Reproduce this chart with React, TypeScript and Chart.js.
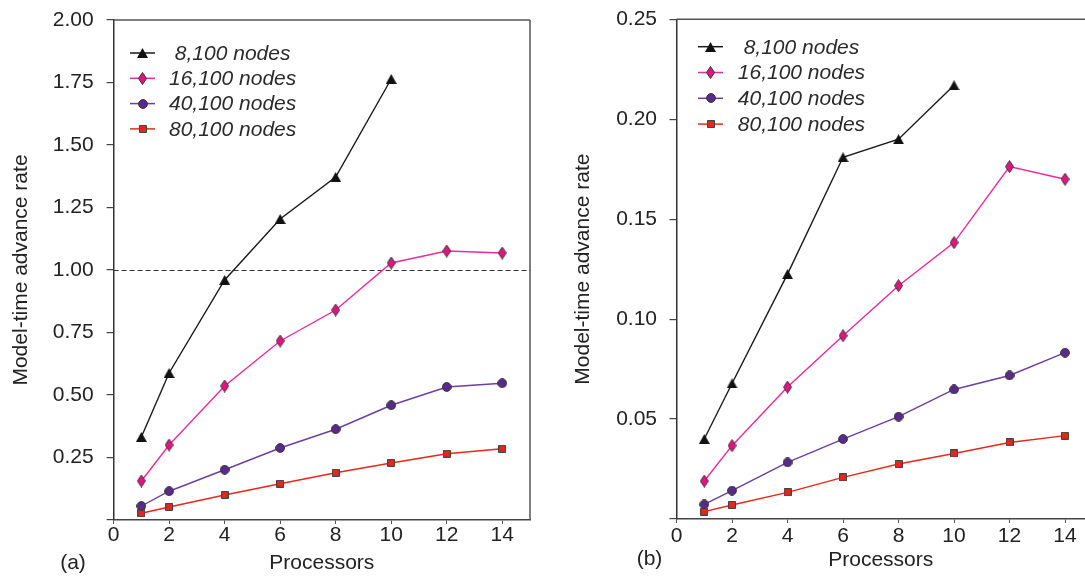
import React, { useEffect, useRef } from 'react';
import { Chart, registerables } from 'chart.js';

Chart.register(...registerables);

const FONT = '"Liberation Sans", Arial, Helvetica, sans-serif';

// ---- data ----
const PROCS_SHORT = [1, 2, 4, 6, 8, 10];
const PROCS = [1, 2, 4, 6, 8, 10, 12, 14];
const X_TICKS = [0, 2, 4, 6, 8, 10, 12, 14];

const SERIES_LABELS = [' 8,100 nodes', '16,100 nodes', '40,100 nodes', '80,100 nodes'];

// panel (a)
const A_8100 = [0.332, 0.588, 0.96, 1.204, 1.372, 1.764];
const A_16100 = [0.156, 0.3, 0.536, 0.716, 0.84, 1.028, 1.076, 1.068];
const A_40100 = [0.056, 0.115, 0.201, 0.288, 0.363, 0.459, 0.532, 0.547];
const A_80100 = [0.027, 0.052, 0.1, 0.145, 0.189, 0.228, 0.265, 0.285];
const A_Y_TICKS = [0, 0.25, 0.5, 0.75, 1.0, 1.25, 1.5, 1.75, 2.0];
const A_REF_LINE = 1.0;

// panel (b)
const B_8100 = [0.04, 0.0678, 0.1225, 0.181, 0.19, 0.217];
const B_16100 = [0.019, 0.0367, 0.066, 0.0917, 0.1167, 0.1383, 0.1763, 0.17];
const B_40100 = [0.0073, 0.0142, 0.0283, 0.04, 0.0512, 0.0648, 0.0718, 0.0832];
const B_80100 = [0.0037, 0.007, 0.0133, 0.0208, 0.0275, 0.0328, 0.0383, 0.0417];
const B_Y_TICKS = [0, 0.05, 0.1, 0.15, 0.2, 0.25];

const COLORS = ['#1a1a1a', '#ee2a9b', '#6a3fa5', '#e8261c'];
const KINDS = ['tri', 'diamond', 'circle', 'square'];

function makeMarker(kind: string): HTMLCanvasElement {
  const c = document.createElement('canvas');
  let w = 9, h = 9;
  if (kind === 'tri') { w = 11; h = 10; }
  if (kind === 'diamond') { w = 9; h = 13; }
  if (kind === 'circle') { w = 10; h = 10; }
  if (kind === 'square') { w = 8; h = 8; }
  c.width = w; c.height = h;
  const ctx = c.getContext('2d')!;
  ctx.lineWidth = 1;
  ctx.beginPath();
  if (kind === 'tri') {
    ctx.moveTo(5.5, 0); ctx.lineTo(11, 10); ctx.lineTo(0, 10); ctx.closePath();
    ctx.fillStyle = '#111'; ctx.fill();
  } else if (kind === 'diamond') {
    ctx.moveTo(4.5, 0.5); ctx.lineTo(8.5, 6.5); ctx.lineTo(4.5, 12.5); ctx.lineTo(0.5, 6.5); ctx.closePath();
    ctx.fillStyle = '#e4137f'; ctx.fill();
    ctx.strokeStyle = '#333'; ctx.stroke();
  } else if (kind === 'circle') {
    ctx.arc(5, 5, 4.4, 0, Math.PI * 2);
    ctx.fillStyle = '#5a2a8a'; ctx.fill();
    ctx.strokeStyle = '#333'; ctx.stroke();
  } else {
    ctx.rect(0.5, 0.5, 7, 7);
    ctx.fillStyle = '#e3261f'; ctx.fill();
    ctx.strokeStyle = '#444'; ctx.stroke();
  }
  return c;
}

type PanelCfg = {
  left: number;
  width: number;
  ys: number[][];
  yTicks: number[];
  yMax: number;
  xMax: number;
  yAxisWidth: number;
  padTop: number;
  padRight: number;
  xHeight: number;
  xTickPad: number;
  xTitlePad: number;
  yTitlePad: number;
  yTickPad: number;
  legend: { x0: number; x1: number; tx: number; y0: number; step: number };
  tag: string;
  tagX: number;
  tagY: number;
  refLine: number | null;
  rightFrame: boolean;
};

function Panel({ cfg }: { cfg: PanelCfg }) {
  const ref = useRef<HTMLCanvasElement>(null);
  useEffect(() => {
    const markers = KINDS.map((k) => makeMarker(k));
    const datasets = cfg.ys.map((ys, i) => {
      const xs = i === 0 ? PROCS_SHORT : PROCS;
      return {
        label: SERIES_LABELS[i],
        data: xs.map((x, j) => ({ x, y: ys[j] })),
        borderColor: COLORS[i],
        backgroundColor: COLORS[i],
        borderWidth: 1.4,
        pointStyle: markers[i] as any,
        pointRadius: 5,
        pointHoverRadius: 5,
        tension: 0,
        fill: false,
        clip: 8,
      };
    });

    const decor = {
      id: 'decor',
      beforeDatasetsDraw(chart: any) {
        const { ctx, chartArea } = chart;
        ctx.save();
        ctx.strokeStyle = '#555';
        ctx.lineWidth = 1.5;
        ctx.beginPath();
        ctx.moveTo(chartArea.left, chartArea.top);
        ctx.lineTo(cfg.rightFrame ? chartArea.right : chart.width, chartArea.top);
        if (cfg.rightFrame) {
          ctx.moveTo(chartArea.right, chartArea.top);
          ctx.lineTo(chartArea.right, chartArea.bottom);
        }
        ctx.stroke();
        if (cfg.refLine !== null) {
          const y = Math.round(chart.scales.y.getPixelForValue(cfg.refLine)) + 0.5;
          ctx.strokeStyle = '#333';
          ctx.lineWidth = 1.2;
          ctx.setLineDash([5, 3]);
          ctx.beginPath();
          ctx.moveTo(chartArea.left, y);
          ctx.lineTo(chartArea.right, y);
          ctx.stroke();
          ctx.setLineDash([]);
        }
        ctx.restore();
      },
      afterDatasetsDraw(chart: any) {
        const { ctx } = chart;
        const L = cfg.legend;
        ctx.save();
        chart.data.datasets.forEach((ds: any, i: number) => {
          const y = L.y0 + i * L.step;
          ctx.strokeStyle = ds.borderColor;
          ctx.lineWidth = 1.5;
          ctx.beginPath();
          ctx.moveTo(L.x0, y);
          ctx.lineTo(L.x1, y);
          ctx.stroke();
          const m = ds.pointStyle as HTMLCanvasElement;
          ctx.drawImage(m, Math.round((L.x0 + L.x1) / 2 - m.width / 2), Math.round(y - m.height / 2));
          ctx.fillStyle = '#2a2a2a';
          ctx.font = 'italic 21px ' + FONT;
          ctx.textAlign = 'left';
          ctx.textBaseline = 'middle';
          ctx.fillText(ds.label, L.tx, y + 1);
        });
        ctx.font = '21px ' + FONT;
        ctx.fillStyle = '#222';
        ctx.textAlign = 'center';
        ctx.textBaseline = 'middle';
        ctx.fillText(cfg.tag, cfg.tagX, cfg.tagY);
        ctx.restore();
      },
    };

    const chart = new Chart(ref.current!, {
      type: 'line',
      data: { datasets: datasets as any },
      options: {
        responsive: false,
        animation: false,
        devicePixelRatio: 1,
        layout: { autoPadding: false, padding: { top: cfg.padTop, right: cfg.padRight, left: 0, bottom: 0 } },
        plugins: { legend: { display: false }, tooltip: { enabled: false } },
        events: [],
        scales: {
          x: {
            type: 'linear',
            min: 0,
            max: cfg.xMax,
            afterBuildTicks: (s: any) => {
              s.ticks = X_TICKS.map((v) => ({ value: v }));
            },
            afterFit: (s: any) => {
              s.height = cfg.xHeight;
              s.paddingLeft = 0;
              s.paddingRight = 0;
            },
            grid: { drawOnChartArea: false, drawTicks: true, tickLength: 4, color: '#555', lineWidth: 1 },
            border: { display: true, color: '#444', width: 1.5 },
            ticks: {
              padding: cfg.xTickPad,
              color: '#222',
              font: { family: FONT, size: 21, lineHeight: 1 },
              maxRotation: 0,
              autoSkip: false,
              callback: (v: any) => String(v),
            },
            title: {
              display: true,
              text: 'Processors',
              color: '#222',
              font: { family: FONT, size: 21, lineHeight: 1 },
              padding: { top: 0, bottom: cfg.xTitlePad },
            },
          },
          y: {
            type: 'linear',
            min: 0,
            max: cfg.yMax,
            afterBuildTicks: (s: any) => {
              s.ticks = cfg.yTicks.map((v) => ({ value: v }));
            },
            afterFit: (s: any) => {
              s.width = cfg.yAxisWidth;
              s.paddingTop = 0;
              s.paddingBottom = 0;
            },
            grid: { drawOnChartArea: false, drawTicks: true, tickLength: 7, color: '#444', lineWidth: 1.2 },
            border: { display: true, color: '#333', width: 1.5 },
            ticks: {
              padding: cfg.yTickPad,
              color: '#222',
              font: { family: FONT, size: 21, lineHeight: 1 },
              autoSkip: false,
              callback: (v: any) => (Number(v) === 0 ? '' : Number(v).toFixed(2)),
            },
            title: {
              display: true,
              text: 'Model-time advance rate',
              color: '#222',
              font: { family: FONT, size: 21, lineHeight: 1 },
              padding: { top: cfg.yTitlePad, bottom: 0 },
            },
          },
        },
      },
      plugins: [decor],
    });
    return () => chart.destroy();
  }, []);
  return (
    <canvas
      ref={ref}
      width={cfg.width}
      height={576}
      style={{ position: 'absolute', left: cfg.left, top: 0, width: cfg.width, height: 576 }}
    />
  );
}

const PANEL_A: PanelCfg = {
  left: 0,
  width: 545,
  ys: [A_8100, A_16100, A_40100, A_80100],
  yTicks: A_Y_TICKS,
  yMax: 2.0,
  xMax: 15,
  yAxisWidth: 113.6,
  padTop: 20,
  padRight: 15,
  xHeight: 56,
  xTickPad: 0.5,
  xTitlePad: 2.5,
  yTitlePad: 11,
  yTickPad: 13,
  legend: { x0: 130, x1: 155, tx: 169, y0: 53, step: 25.3 },
  tag: '(a)',
  tagX: 73,
  tagY: 563,
  refLine: A_REF_LINE,
  rightFrame: true,
};

const PANEL_B: PanelCfg = {
  left: 545,
  width: 540,
  ys: [B_8100, B_16100, B_40100, B_80100],
  yTicks: B_Y_TICKS,
  yMax: 0.25,
  xMax: 14.72,
  yAxisWidth: 131.5,
  padTop: 19.3,
  padRight: 0,
  xHeight: 57,
  xTickPad: 3.2,
  xTitlePad: 5.5,
  yTitlePad: 27.5,
  yTickPad: 12.5,
  legend: { x0: 153, x1: 178, tx: 192.8, y0: 46.7, step: 25.8 },
  tag: '(b)',
  tagX: 104.5,
  tagY: 559,
  refLine: null,
  rightFrame: false,
};

export default function App() {
  return (
    <div style={{ position: 'absolute', left: 0, top: 0, width: 1085, height: 576, background: '#fff', overflow: 'hidden' }}>
      <Panel cfg={PANEL_A} />
      <Panel cfg={PANEL_B} />
    </div>
  );
}
